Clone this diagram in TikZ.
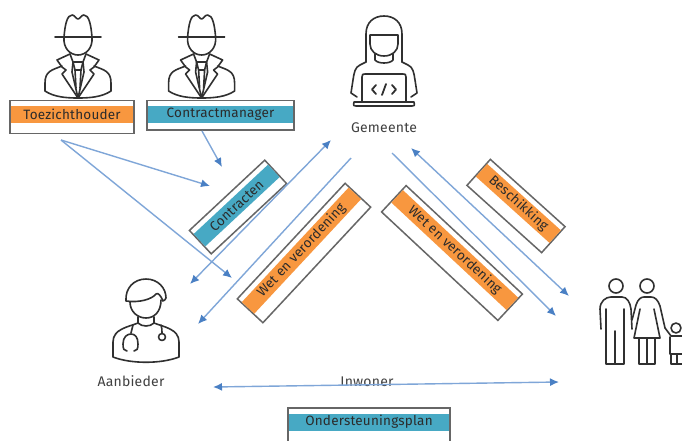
\documentclass[tikz,border=0pt]{standalone}
\usepackage{fontspec}
\setmainfont{Fira Sans}[LetterSpace=1.5]
\usetikzlibrary{arrows.meta}
\definecolor{bandorange}{HTML}{F8973F}
\definecolor{bandteal}{HTML}{47A9C4}
\definecolor{frameline}{HTML}{666666}
\definecolor{conn}{HTML}{7FA6D8}
\definecolor{tipblue}{HTML}{4A80C4}
\definecolor{labelgrey}{HTML}{404040}
\definecolor{bandtext}{HTML}{2B2B2B}
\definecolor{iconline}{HTML}{303030}
\tikzset{
  x=1pt,y=-1pt,
  frame/.style={draw=frameline,line width=1.5pt,fill=white,inner sep=0pt,outer sep=0pt},
  band/.style={inner sep=0pt,outer sep=0pt,text=bandtext,font=\fontsize{13.5}{15}\selectfont},
  person/.style={text=labelgrey,font=\fontsize{14}{16}\selectfont,inner sep=0pt},
  icon/.style={draw=iconline,line width=1.6pt,line cap=round,line join=round,fill=none},
  conline/.style={draw=conn,line width=1.4pt},
  tip/.style={-{Latex[length=9pt,width=8pt,color=tipblue]}},
  twotip/.style={{Latex[length=9pt,width=8pt,color=tipblue]}-{Latex[length=9pt,width=8pt,color=tipblue]}},
  pics/agent/.style={code={
    \draw[icon] (-23,37)--(23,37);
    \draw[icon] (-14,37) .. controls (-13,25) and (-11,15) .. (-6,15) .. controls (-3,15) and (-2,19) .. (0,19) .. controls (2,19) and (3,15) .. (6,15) .. controls (11,15) and (13,25) .. (14,37);
    \draw[icon] (-14,37) .. controls (-15,48) and (-8,55) .. (0,55) .. controls (8,55) and (15,48) .. (14,37);
    \draw[icon] (-8,54) -- (-21,60) -- (-16,67) -- (-12,70) -- (-16,74) -- (0,98) -- (16,74) -- (12,70) -- (16,67) -- (21,60) -- (8,54);
    \draw[icon] (-8,54) -- (-5,62) -- (-6,72) -- (0,98) -- (6,72) -- (5,62) -- (8,54);
    \draw[icon] (-5,62) -- (5,62) -- (3,70) -- (-3,70) -- cycle;
    \draw[icon] (-3,70) -- (-2,88);
    \draw[icon] (3,70) -- (2,88);
    \draw[icon] (-16,66) .. controls (-26,70) and (-33,71) .. (-33,83) -- (-33,91) .. controls (-24,97) and (-12,98) .. (0,98) .. controls (12,98) and (24,97) .. (33,91) -- (33,83) .. controls (33,71) and (26,70) .. (16,66);
  }},
  pics/coder/.style={code={
    \draw[icon] (-18,62) -- (-18,34) .. controls (-18,22) and (-10,16) .. (0,16) .. controls (10,16) and (18,22) .. (18,34) -- (18,62);
    \draw[icon] (-14,35) -- (14,35) -- (14,44) .. controls (14,51) and (8,56) .. (0,56) .. controls (-8,56) and (-14,51) .. (-14,44) -- cycle;
    \draw[icon] (-9,54) -- (-9,60) .. controls (-6,64) and (6,64) .. (9,60) -- (9,54);
    \draw[icon] (-18,62) -- (-24,65) .. controls (-29,67) and (-30,73) .. (-31,80) -- (-33,93) -- (-27,97);
    \draw[icon] (18,62) -- (24,65) .. controls (29,67) and (30,73) .. (31,80) -- (33,93) -- (27,97);
    \draw[icon] (-22,102) -- (-22,77) .. controls (-22,74) and (-21,74) .. (-19,74) -- (19,74) .. controls (21,74) and (22,74) .. (22,77) -- (22,102);
    \draw[icon] (-30,102) -- (30,102) .. controls (31,106) and (30,106) .. (28,106) -- (-28,106) .. controls (-30,106) and (-31,106) .. (-30,102);
    \draw[icon,line width=1.8pt] (-8,85) -- (-12,89.5) -- (-8,94);
    \draw[icon,line width=1.8pt] (8,85) -- (12,89.5) -- (8,94);
    \draw[icon,line width=1.8pt] (2,84) -- (-2,95);
  }},
  pics/doctor/.style={code={
    \draw[icon] (-20,301) .. controls (-21,288) and (-12,279) .. (0,279) .. controls (12,279) and (20,288) .. (20,298) .. controls (20,300) and (18,300) .. (17,301) .. controls (15,296) and (12,292) .. (10,294) .. controls (6,299) and (-6,303) .. (-20,301);
    \draw[icon] (-16,302) .. controls (-16,312) and (-8,318) .. (0,318) .. controls (8,318) and (15,312) .. (15,300);
    \draw[icon] (-8,317) -- (-8,323) .. controls (-4,327) and (4,327) .. (8,323) -- (8,317);
    \draw[icon] (-8,323) .. controls (-18,327) and (-33,329) .. (-33,342) -- (-33,357) .. controls (-15,364) and (15,364) .. (33,357) -- (33,342) .. controls (33,329) and (18,327) .. (8,323);
    \draw[icon] (-13,325) -- (-15,333);
    \draw[icon] (-19,351) .. controls (-22,351) and (-23,349) .. (-23,344) .. controls (-23,337) and (-19,334) .. (-15,334) .. controls (-11,334) and (-8,337) .. (-8,344) .. controls (-8,349) and (-9,351) .. (-12,351);
    \draw[icon] (15,325) .. controls (16,328) and (16,330) .. (16,333);
    \draw[icon] (16,337) circle[radius=3.5];
  }},
  pics/family/.style={code={
    \draw[icon] (616,286) circle[radius=7];
    \draw[icon] (601,329) -- (600,309) .. controls (600,301) and (606,297) .. (611,297) -- (622,297) .. controls (627,297) and (630,302) .. (631,309) -- (632,329);
    \draw[icon] (606,309) -- (606,364) -- (624,364) -- (624,309);
    \draw[icon] (615,331) -- (615,364);
    \draw[icon] (647,286) circle[radius=7];
    \draw[icon] (632,320) -- (636,305) .. controls (638,299) and (641,297) .. (644,297) -- (651,297) .. controls (655,297) and (658,300) .. (660,306) -- (665,328);
    \draw[icon] (640,309) -- (634,338) -- (660,338) -- (654,309);
    \draw[icon] (639,338) -- (639,364) -- (655,364) -- (655,338);
    \draw[icon] (647,338) -- (647,364);
    \draw[icon] (676,328) circle[radius=5];
    \draw[icon] (665,328) -- (671,336) -- (682,336);
    \draw[icon] (670,337) -- (670,354) -- (682,354);
    \draw[icon] (671,354) -- (671,364) -- (682,364);
    \draw[icon] (677,354) -- (677,364);
  }},
}
\newcommand{\bandbox}[8]{%
  \begin{scope}[shift={(#2,#3)},rotate=#4,transform shape]
    \node[frame,minimum width=#5pt,minimum height=#6pt] (#1) at (0,0) {};
    \node[band,fill=#7,minimum width=#5pt-1.5pt,minimum height=17pt] (#1 text) at (0,{-#6/2+14}) {#8};
  \end{scope}}
\begin{document}
\begin{tikzpicture}
\useasboundingbox (0,0) rectangle (682,440);
\fill[white] (0,0) rectangle (682,440);
\clip (0,0) rectangle (682,440);

\pic at (78,0) {agent};
\pic at (201.6,0) {agent};
\pic at (384,0) {coder};
\pic at (146,0) {doctor};
\pic at (0,0) {family};

\bandbox{toezicht}{72}{117}{0}{124}{33}{bandorange}{Toezichthouder}
\bandbox{contractm}{220.5}{115.25}{0}{147}{29.5}{bandteal}{Contractmanager}
\bandbox{contracten}{238}{207}{43}{103}{32}{bandteal}{Contracten}
\bandbox{wetl}{304}{253}{47}{158}{35}{bandorange}{Wet en verordening}
\bandbox{wetr}{452}{253}{-43}{159}{36}{bandorange}{Wet en verordening}
\bandbox{besch}{516}{206}{-42}{100.5}{35}{bandorange}{Beschikking}
\bandbox{plan}{369}{429}{0}{162}{42}{bandteal}{Ondersteuningsplan}

\node[person] (gemeente) at (384,127.5) {Gemeente};
\node[person] (aanbieder) at (131,381) {Aanbieder};
\node[person] (inwoner) at (367,381.5) {Inwoner};

\coordinate (c1) at (61,140);
\coordinate (c2) at (210,186);
\coordinate (c3) at (232,278);
\coordinate (c4) at (202,131);
\coordinate (c5) at (222,167);
\coordinate (c6) at (331,140);
\coordinate (c7) at (190,284);
\coordinate (c8) at (351,158);
\coordinate (c9) at (198,324);
\coordinate (c10) at (392,153);
\coordinate (c11) at (556,316);
\coordinate (c12) at (411,148);
\coordinate (c13) at (569,296);
\coordinate (c14) at (213,387);
\coordinate (c15) at (559,382);
\draw[conline,tip] (c1) -- (c2);
\draw[conline,tip] (c1) -- (c3);
\draw[conline,tip] (c4) -- (c5);
\draw[conline,twotip] (c6) -- (c7);
\draw[conline,tip] (c8) -- (c9);
\draw[conline,tip] (c10) -- (c11);
\draw[conline,twotip] (c12) -- (c13);
\draw[conline,twotip] (c14) -- (c15);
\end{tikzpicture}
\end{document}
